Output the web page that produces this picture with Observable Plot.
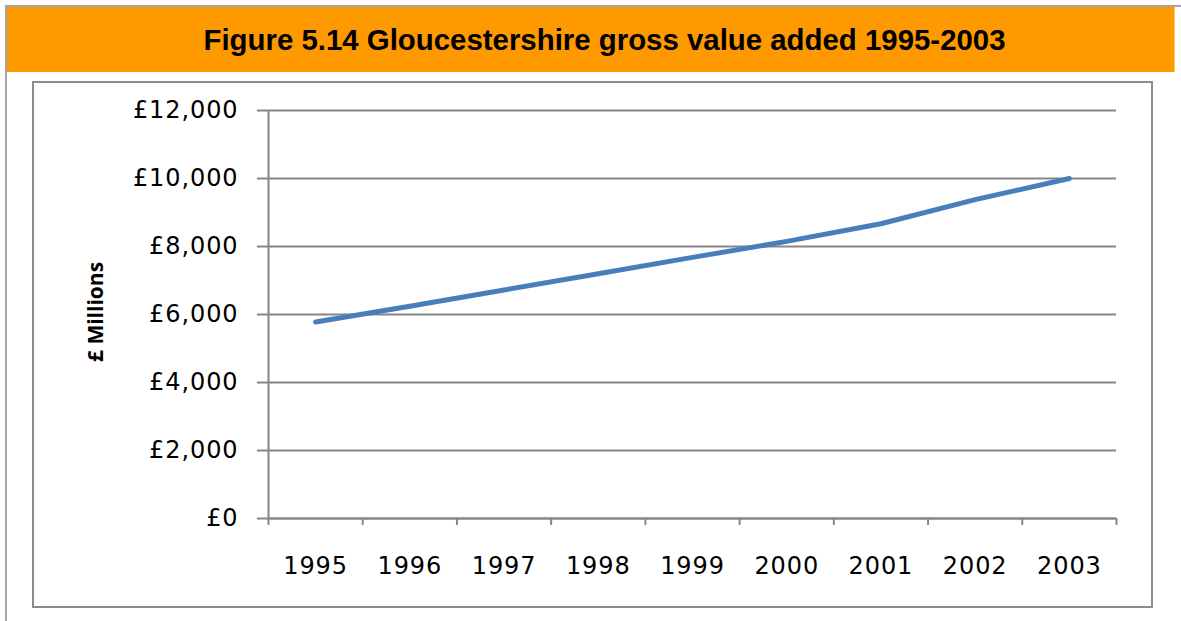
<!DOCTYPE html>
<html>
<head>
<meta charset="utf-8">
<script src="https://cdn.jsdelivr.net/npm/d3@7"></script>
<script src="https://cdn.jsdelivr.net/npm/@observablehq/plot@0.6"></script>
<style>
  html, body { margin: 0; padding: 0; background: #fff; }
  #wrap { position: relative; width: 1181px; height: 621px; overflow: hidden; }
  #outerTop { position: absolute; left: 5px; top: 5px; width: 1176px; height: 2px; background: #a6a6a6; }
  #outerLeft { position: absolute; left: 5px; top: 5px; width: 2px; height: 616px; background: #a6a6a6; }
  #band { position: absolute; left: 7px; top: 7px; width: 1167px; height: 65px; background: #ff9900; border-right: 1px solid #ffc266; }
  #title { position: absolute; left: 21px; top: 7px; width: 1167px; height: 65px; line-height: 66px; text-align: center;
           font-family: "Liberation Sans", Arial, sans-serif; font-weight: bold; font-size: 29.4px; color: #000; }
  #box { position: absolute; left: 32px; top: 81px; width: 1117px; height: 523px; border: 2px solid #8c8c8c; }
  #ylab { position: absolute; left: 95px; top: 312px; transform: translate(-50%, -50%) rotate(-90deg);
          font-family: "Liberation Sans Narrow", "Arial Narrow", "Open Sans", sans-serif; font-weight: bold; font-size: 21px; white-space: nowrap; color: #000; }
  #plot { position: absolute; left: 0; top: 0; }
  #plot svg text { font-family: "DejaVu Sans", Verdana, sans-serif !important; font-size: 24px !important; letter-spacing: 0.9px; }
</style>
</head>
<body>
<div id="wrap">
  <div id="outerTop"></div>
  <div id="outerLeft"></div>
  <div id="band"></div>
  <div id="title">Figure 5.14 Gloucestershire gross value added 1995-2003</div>
  <div id="box"></div>
  <div id="ylab">£ Millions</div>
  <div id="plot"></div>
</div>
<script>
const years = [1995, 1996, 1997, 1998, 1999, 2000, 2001, 2002, 2003];
const gva = [5780, 6240, 6720, 7200, 7680, 8150, 8670, 9380, 10000];
const yTicks = [0, 2000, 4000, 6000, 8000, 10000, 12000];

const data = years.map((yr, i) => ({year: yr, value: gva[i]}));
const boundaries = [years[0] - 0.5, ...years.map(y => y + 0.5)];
const gray = "#868686";
const fmt = v => "£" + d3.format(",")(v);

const chart = Plot.plot({
  width: 1181,
  height: 621,
  marginLeft: 268,
  marginRight: 65,
  marginTop: 110,
  marginBottom: 103,
  style: {background: "transparent", fontFamily: "'DejaVu Sans', Verdana, sans-serif", fontSize: "24px", color: "#000", overflow: "visible"},
  x: {type: "linear", domain: [years[0] - 0.5, years[years.length - 1] + 0.5]},
  y: {domain: [0, 12000]},
  marks: [
    Plot.gridY(yTicks, {stroke: gray, strokeOpacity: 1, strokeWidth: 2}),
    Plot.ruleY([0], {stroke: gray, strokeWidth: 2}),
    Plot.ruleX([years[0] - 0.5], {y1: 0, y2: 12000, stroke: gray, strokeWidth: 2}),
    Plot.axisY(yTicks, {tickSize: 11, tickPadding: 19, tickFormat: fmt, stroke: gray, strokeWidth: 2, strokeOpacity: 1, fill: "#000", label: null, fontSize: 24}),
    Plot.axisX(boundaries, {tickSize: 7, tickFormat: () => "", stroke: gray, strokeWidth: 2, strokeOpacity: 1, label: null}),
    Plot.axisX(years, {tickSize: 0, tickPadding: 38, tickFormat: d => String(d), fill: "#000", label: null, fontSize: 24}),
    Plot.line(data, {x: "year", y: "value", stroke: "#4a7ebb", strokeWidth: 5, strokeLinecap: "round", strokeLinejoin: "round"})
  ]
});
document.getElementById("plot").appendChild(chart);
</script>
</body>
</html>
